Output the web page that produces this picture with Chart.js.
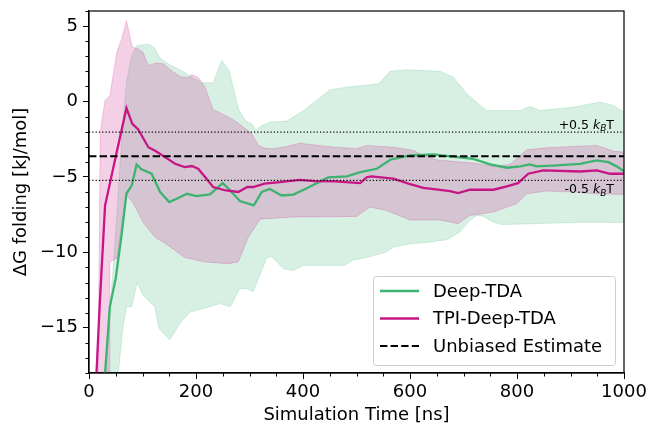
<!DOCTYPE html>
<html>
<head>
<meta charset="utf-8">
<script src="https://cdn.jsdelivr.net/npm/chart.js@4.4.1/dist/chart.umd.min.js"></script>
<style>
  html, body { margin: 0; padding: 0; background: #fff; }
  canvas { display: block; }
</style>
</head>
<body>
<canvas id="myChart" width="647" height="427"></canvas>
<script>
// values: [time in ns, dG in kJ/mol]
const deepTdaMean = [
  [25, -20.5], [39, -13.6], [50, -11.7], [61, -8.8], [70, -6.1], [80, -5.56], [89, -4.18],
  [98, -4.5], [117, -4.79], [133, -6.0], [150, -6.67], [164, -6.45], [183, -6.12], [201, -6.27],
  [226, -6.16], [250, -5.41], [264, -5.9], [282, -6.6], [308, -6.89], [323, -6.0], [338, -5.8],
  [360, -6.23], [382, -6.17], [410, -5.7], [447, -5.03], [482, -4.97], [507, -4.68], [538, -4.46],
  [563, -3.86], [600, -3.58], [644, -3.51], [675, -3.64], [718, -3.8], [750, -4.17], [781, -4.39],
  [806, -4.3], [824, -4.17], [837, -4.3], [874, -4.24], [918, -4.13], [949, -3.91], [971, -4.02],
  [986, -4.3], [1000, -4.62]
];
const deepTdaUpper = [
  [22, -20], [31, -18], [49, -9.1], [61, -2.5], [70, 1.3], [80, 3.05], [89, 3.7], [111, 3.82],
  [123, 3.53], [133, 2.87], [151, 2.43], [173, 2.05], [192, 1.61], [211, 1.24], [232, 1.24],
  [248, 2.72], [262, 2.05], [279, -0.48], [292, -1.26], [304, -1.48], [312, -1.92], [323, -1.59],
  [338, -1.37], [370, -1.3], [401, -0.6], [450, 0.77], [482, 0.95], [541, 1.17], [563, 2.0],
  [594, 2.1], [656, 2.0], [681, 1.61], [706, 0.51], [743, -0.6], [806, -0.6], [824, -0.33],
  [843, -0.6], [905, -0.38], [955, -0.04], [980, -0.26], [1000, -0.7]
];
const deepTdaLower = [
  [22, -30], [47, -30], [55, -18], [63, -15.05], [70, -13.6], [80, -13.6], [90, -12.0],
  [101, -12.85], [123, -13.6], [131, -15.05], [151, -15.8], [170, -14.7], [189, -13.95],
  [220, -13.66], [245, -13.4], [264, -13.6], [282, -12.4], [295, -12.4], [307, -12.6],
  [332, -10.4], [341, -10.27], [363, -11.08], [382, -11.2], [401, -10.86], [478, -10.86],
  [494, -10.5], [513, -10.4], [556, -9.98], [569, -9.65], [600, -9.43], [637, -9.32],
  [669, -9.16], [693, -8.66], [712, -7.88], [725, -7.55], [737, -7.6], [756, -8.0], [771, -8.15],
  [812, -8.12], [868, -8.06], [930, -8.0], [1000, -8.03]
];
const tpiMean = [
  [10, -21], [14, -18], [20, -13.5], [30, -6.9], [50, -3.65], [70, -0.44], [81, -1.48], [92, -1.85],
  [111, -3.03], [126, -3.31], [142, -3.69], [161, -4.13], [179, -4.35], [192, -4.28], [204, -4.46],
  [217, -5.01], [232, -5.67], [256, -5.9], [279, -6.0], [296, -5.67], [307, -5.67], [328, -5.45],
  [357, -5.34], [394, -5.19], [422, -5.28], [460, -5.3], [507, -5.41], [519, -5.02], [528, -4.97],
  [569, -5.12], [597, -5.45], [625, -5.72], [675, -5.94], [690, -6.07], [712, -5.85], [756, -5.85],
  [781, -5.63], [802, -5.41], [821, -4.79], [849, -4.57], [918, -4.64], [949, -4.57], [974, -4.79],
  [1000, -4.79]
];
const tpiUpper = [
  [15, -22], [17, -18], [21, -2.03], [30, 0.07], [39, 0.4], [52, 3.26], [61, 4.15], [70, 5.36],
  [81, 3.6], [92, 3.49], [101, 3.26], [111, 2.38], [126, 2.56], [139, 2.5], [158, 1.94],
  [173, 1.61], [186, 1.61], [192, 1.79], [204, 1.61], [217, 0.95], [232, -0.53], [248, -0.81],
  [267, -1.15], [285, -1.59], [304, -2.14], [317, -2.91], [329, -3.1], [344, -3.13], [370, -2.98],
  [394, -2.76], [444, -2.98], [500, -3.13], [519, -2.91], [569, -3.03], [606, -3.24], [625, -3.58],
  [650, -3.86], [675, -3.95], [718, -4.08], [756, -4.3], [787, -4.17], [818, -3.2], [855, -3.07],
  [905, -2.98], [949, -2.91], [980, -3.29], [1000, -3.36]
];
const tpiLower = [
  [15, -30], [38, -30], [39, -10.64], [52, -10.4], [70, -6.2], [83, -6.77], [101, -8.0],
  [123, -8.99], [148, -9.54], [179, -10.35], [217, -10.64], [260, -10.75], [279, -10.64],
  [298, -8.99], [320, -7.8], [382, -7.66], [500, -7.62], [525, -7.0], [556, -7.22], [600, -7.85],
  [656, -7.85], [690, -8.1], [712, -7.55], [756, -7.33], [800, -6.77], [818, -6.12], [855, -5.94],
  [905, -6.0], [949, -6.12], [1000, -6.16]
];
const unbiasedEstimate = -3.63;
const kbtLines = [-2.03, -5.23];   // +0.5 kBT, -0.5 kBT
const kbtLabels = ['+0.5 ', '-0.5 '];

const xRange = [0, 1000];
const yRange = [-18, 6];
const xTicks = [0, 200, 400, 600, 800, 1000];
const yTicks = [-15, -10, -5, 0, 5];
const xMinorStep = 50;
const yMinorStep = 1;

const green = "#3cb371";
const magenta = "#c71585";
const greenFill = "rgba(60, 179, 113, 0.2)";
const magentaFill = "rgba(199, 21, 133, 0.2)";
const FONT = "DejaVu Sans";

Chart.defaults.font.family = FONT;
Chart.defaults.color = "#000";

const flat = (v) => [[xRange[0], v], [xRange[1], v]];

let dataset_list = [
  // bands first (index matters for '+1' fills)
  { label: "Deep-TDA upper", data: deepTdaUpper, fill: "+1", backgroundColor: greenFill,
    borderColor: greenFill, borderWidth: 1, order: 4 },
  { label: "Deep-TDA lower", data: deepTdaLower, fill: false,
    borderColor: greenFill, borderWidth: 1, order: 4 },
  { label: "TPI upper", data: tpiUpper, fill: "+1", backgroundColor: magentaFill,
    borderColor: magentaFill, borderWidth: 1, order: 3 },
  { label: "TPI lower", data: tpiLower, fill: false,
    borderColor: magentaFill, borderWidth: 1, order: 3 },
  { label: "Deep-TDA", data: deepTdaMean, borderColor: green, borderWidth: 2.3,
    fill: false, order: 2, inLegend: true },
  { label: "TPI-Deep-TDA", data: tpiMean, borderColor: magenta, borderWidth: 2.3,
    fill: false, order: 1, inLegend: true },
  { label: "Unbiased Estimate", data: flat(unbiasedEstimate), borderColor: "#000",
    borderWidth: 2.2, borderDash: [7.4, 3.2], fill: false, order: 0, inLegend: true },
];
for (let i = 0; i < kbtLines.length; i++) {
  dataset_list.push({
    label: "kBT " + i, data: flat(kbtLines[i]), borderColor: "#000",
    borderWidth: 1.2, borderDash: [1.2, 2.1], fill: false, order: 0,
  });
}

// matplotlib-like frame and minor ticks
const framePlugin = {
  id: "frame",
  afterDatasetsDraw(chart) {
    const { ctx, chartArea: a, scales } = chart;
    ctx.save();
    ctx.strokeStyle = "#000";
    ctx.lineWidth = 1;
    ctx.beginPath();
    for (let v = yRange[0]; v <= yRange[1]; v += yMinorStep) {
      if (yTicks.includes(v)) continue;
      const p = Math.round(scales.y.getPixelForValue(v)) + 0.5;
      ctx.moveTo(a.left - 3.5, p);
      ctx.lineTo(a.left, p);
    }
    for (let v = xRange[0]; v <= xRange[1]; v += xMinorStep) {
      if (xTicks.includes(v)) continue;
      const p = Math.round(scales.x.getPixelForValue(v)) + 0.5;
      ctx.moveTo(p, a.bottom);
      ctx.lineTo(p, a.bottom + 3.5);
    }
    ctx.stroke();
    ctx.lineWidth = 1.2;
    ctx.strokeRect(a.left, a.top, a.right - a.left, a.bottom - a.top);
    ctx.restore();
  },
};

// +-0.5 kBT labels
const kbtPlugin = {
  id: "kbt",
  afterDatasetsDraw(chart) {
    const { ctx, chartArea: a, scales } = chart;
    const xRight = a.right - 10;
    for (let i = 0; i < kbtLines.length; i++) {
      const p = scales.y.getPixelForValue(kbtLines[i]);
      const base = i === 0 ? p - 3.5 : p + 13;
      const parts = [
        { t: kbtLabels[i], f: '12.5px "' + FONT + '"', dy: 0 },
        { t: "k", f: 'italic 12.5px "' + FONT + '"', dy: 0 },
        { t: "B", f: 'italic 9px "' + FONT + '"', dy: 2.5 },
        { t: "T", f: '12.5px "' + FONT + '"', dy: 0 },
      ];
      ctx.save();
      ctx.fillStyle = "#000";
      ctx.textBaseline = "alphabetic";
      let total = 0;
      for (const pt of parts) { ctx.font = pt.f; total += ctx.measureText(pt.t).width; }
      let x = xRight - total;
      for (const pt of parts) {
        ctx.font = pt.f;
        ctx.fillText(pt.t, x, base + pt.dy);
        x += ctx.measureText(pt.t).width;
      }
      ctx.restore();
    }
  },
};

// legend box in the lower right corner of the plot
const legendPlugin = {
  id: "boxLegend",
  afterDraw(chart) {
    const { ctx, chartArea: a } = chart;
    const items = chart.data.datasets.filter((d) => d.inLegend);
    const w = 242, h = 89, rowH = 27.5;
    const x0 = a.right - 9 - w, y0 = a.bottom - 8 - h;
    ctx.save();
    ctx.fillStyle = "rgba(255,255,255,0.8)";
    ctx.strokeStyle = "#cccccc";
    ctx.lineWidth = 1;
    ctx.beginPath();
    ctx.roundRect(x0 + 0.5, y0 + 0.5, w, h, 3);
    ctx.fill();
    ctx.stroke();
    ctx.font = '18px "' + FONT + '"';
    ctx.textBaseline = "middle";
    for (let i = 0; i < items.length; i++) {
      const yy = y0 + 15 + i * rowH;
      ctx.strokeStyle = items[i].borderColor;
      ctx.lineWidth = items[i].borderWidth;
      ctx.setLineDash(items[i].borderDash || []);
      ctx.beginPath();
      ctx.moveTo(x0 + 7, yy);
      ctx.lineTo(x0 + 46, yy);
      ctx.stroke();
      ctx.setLineDash([]);
      ctx.fillStyle = "#000";
      ctx.fillText(items[i].label, x0 + 60, yy + 1);
    }
    ctx.restore();
  },
};

const ctx = document.getElementById("myChart").getContext("2d");
var myChart = new Chart(ctx, {
  type: "line",
  data: { datasets: dataset_list },
  options: {
    responsive: false,
    animation: false,
    devicePixelRatio: 1,
    layout: { padding: { top: 11, right: 23, left: 0, bottom: 0 } },
    elements: { point: { radius: 0 }, line: { tension: 0 } },
    plugins: { legend: { display: false }, tooltip: { enabled: false } },
    scales: {
      x: {
        type: "linear",
        min: xRange[0],
        max: xRange[1],
        afterBuildTicks: (s) => { s.ticks = xTicks.map((v) => ({ value: v })); },
        afterFit: (s) => { s.height = 54; s.paddingLeft = 0; s.paddingRight = 0; },
        ticks: { font: { size: 18 }, padding: 3, maxRotation: 0, color: "#000",
                 callback: (v) => String(v) },
        grid: { drawOnChartArea: false, tickLength: 6, tickColor: "#000", tickWidth: 1 },
        border: { color: "#000", width: 1.2 },
        title: { display: true, text: "Simulation Time [ns]", font: { size: 18 },
                 padding: { top: 0, bottom: 1 }, color: "#000" },
      },
      y: {
        type: "linear",
        min: yRange[0],
        max: yRange[1],
        afterBuildTicks: (s) => { s.ticks = yTicks.map((v) => ({ value: v })); },
        afterFit: (s) => { s.width = 89; s.paddingTop = 0; s.paddingBottom = 0; },
        ticks: {
          font: { size: 18 }, padding: 5, color: "#000",
          callback: (v) => (v < 0 ? "\u2212" + Math.abs(v) : String(v)),
        },
        grid: { drawOnChartArea: false, tickLength: 6, tickColor: "#000", tickWidth: 1 },
        border: { color: "#000", width: 1.2 },
        title: { display: true, text: "\u0394G folding [kJ/mol]", font: { size: 18 },
                 padding: { top: 11, bottom: 0 }, color: "#000" },
      },
    },
  },
  plugins: [framePlugin, kbtPlugin, legendPlugin],
});
</script>
</body>
</html>
